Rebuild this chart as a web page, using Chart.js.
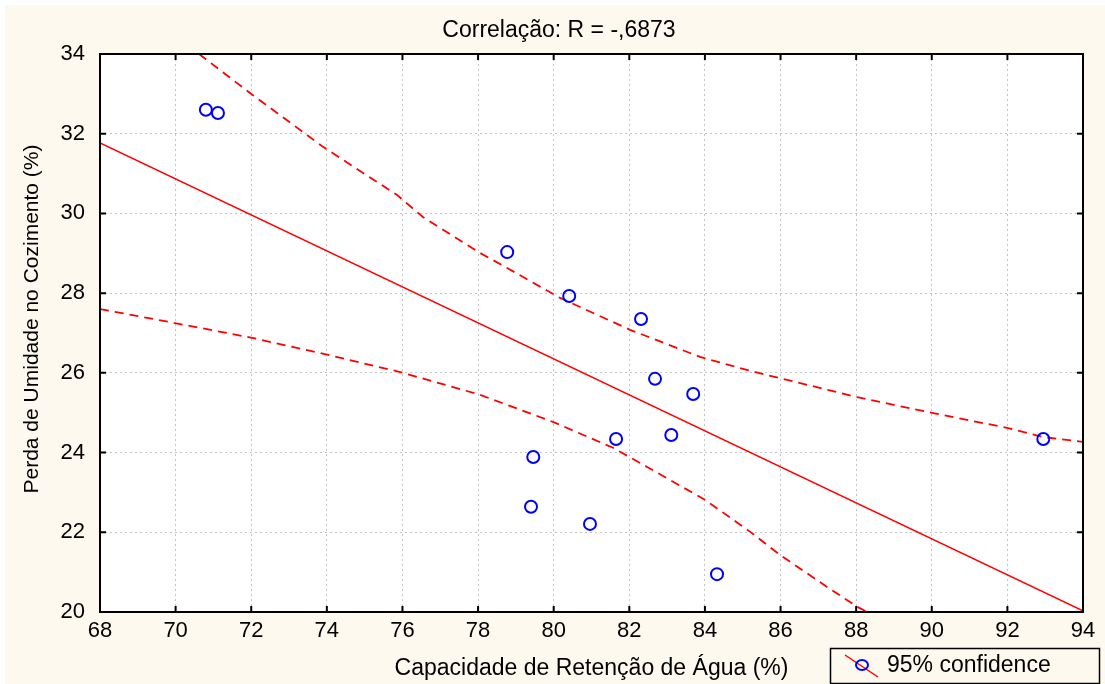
<!DOCTYPE html>
<html>
<head>
<meta charset="utf-8">
<script src="https://cdn.jsdelivr.net/npm/chart.js@4/dist/chart.umd.min.js"></script>
<style>
  body { margin: 0; background: #fff; }
  #chart { display: block; }
</style>
</head>
<body>
<canvas id="chart" width="1105" height="684"></canvas>
<script>
// observed points
var waterX = [70.80, 71.12, 78.77, 80.41, 82.31, 82.68, 83.69, 81.65, 83.11, 79.46, 79.40, 80.96, 84.32, 92.95];
var lossY  = [32.60, 32.52, 29.03, 27.93, 27.35, 25.85, 25.47, 24.34, 24.44, 23.89, 22.64, 22.21, 20.95, 24.34];

// fitted line (ends)
var fitX = [68, 94];
var fitY = [31.77, 20.03];

// 95% confidence bands
var upperX = [70.62, 71.97, 73.90, 75.86, 76.54, 78.05, 78.77, 80.17, 82.02, 83.87, 85.20, 88.03, 90.04, 91.99, 92.95, 94];
var upperY = [34.0, 33.02, 31.67, 30.46, 29.91, 29.01, 28.63, 27.88, 27.08, 26.40, 26.05, 25.39, 24.99, 24.62, 24.39, 24.27];
var lowerX = [68, 69.98, 72.02, 73.95, 75.94, 78.05, 79.98, 81.57, 82.47, 84.01, 85.20, 85.99, 87.23, 88.03, 88.29];
var lowerY = [27.60, 27.25, 26.88, 26.47, 26.02, 25.45, 24.77, 24.12, 23.64, 22.81, 22.01, 21.43, 20.63, 20.13, 20.0];

var xTicks = [68, 70, 72, 74, 76, 78, 80, 82, 84, 86, 88, 90, 92, 94];
var yTicks = [20, 22, 24, 26, 28, 30, 32, 34];

var titleText = 'Correlação: R = -,6873';
var xTitle = 'Capacidade de Retenção de Água (%)';
var yTitle = 'Perda de Umidade no Cozimento (%)';
var legendText = '95% confidence';

var FONT = '"Liberation Sans", Arial, sans-serif';

function pairs(xs, ys) {
  return xs.map(function (x, i) { return { x: x, y: ys[i] }; });
}

// background, frame, inner tick marks, title, y title and the boxed legend
const framePlugin = {
  id: 'frame',
  beforeDraw(chart) {
    const ctx = chart.ctx, a = chart.chartArea;
    ctx.save();
    ctx.fillStyle = '#fdf9ee';
    ctx.fillRect(5, 5, chart.width - 5, chart.height - 5);
    ctx.fillStyle = '#ffffff';
    ctx.fillRect(a.left, a.top, a.right - a.left, a.bottom - a.top);
    ctx.restore();
  },
  afterDraw(chart) {
    const ctx = chart.ctx, a = chart.chartArea;
    const xs = chart.scales.x, ys = chart.scales.y;
    ctx.save();
    ctx.strokeStyle = '#000';
    ctx.lineWidth = 2;
    ctx.strokeRect(a.left, a.top, a.right - a.left, a.bottom - a.top);
    ctx.beginPath();
    xTicks.forEach(function (v) {
      const px = xs.getPixelForValue(v);
      ctx.moveTo(px, a.bottom); ctx.lineTo(px, a.bottom - 6);
      ctx.moveTo(px, a.top); ctx.lineTo(px, a.top + 6);
    });
    yTicks.forEach(function (v) {
      const py = ys.getPixelForValue(v);
      ctx.moveTo(a.left, py); ctx.lineTo(a.left + 6, py);
      ctx.moveTo(a.right, py); ctx.lineTo(a.right - 6, py);
    });
    ctx.stroke();

    // title and y title
    ctx.fillStyle = '#000';
    ctx.textAlign = 'center';
    ctx.textBaseline = 'middle';
    ctx.font = '23px ' + FONT;
    ctx.fillText(titleText, 559, 31);
    ctx.save();
    ctx.translate(32, 319);
    ctx.rotate(-Math.PI / 2);
    ctx.font = '21px ' + FONT;
    ctx.fillText(yTitle, 0, 0);
    ctx.restore();

    // legend
    ctx.lineWidth = 1.5;
    ctx.strokeStyle = '#000';
    ctx.strokeRect(830.5, 648.5, 269, 35);
    ctx.strokeStyle = '#ff0000';
    ctx.beginPath();
    ctx.moveTo(845, 655); ctx.lineTo(878, 677);
    ctx.stroke();
    ctx.strokeStyle = '#0000ff';
    ctx.lineWidth = 2;
    ctx.beginPath();
    ctx.ellipse(862, 665, 6, 5, 0, 0, Math.PI * 2);
    ctx.stroke();
    ctx.fillStyle = '#000';
    ctx.font = '23px ' + FONT;
    ctx.textAlign = 'left';
    ctx.fillText(legendText, 887, 666);
    ctx.restore();
  }
};

const config = {
  type: 'scatter',
  data: {
    datasets: [
      {
        label: 'dados',
        data: pairs(waterX, lossY),
        pointStyle: 'circle',
        pointRadius: 6,
        pointBorderWidth: 2,
        pointBorderColor: '#0000ff',
        pointBackgroundColor: 'rgba(0,0,0,0)',
        showLine: false,
        order: 0
      },
      {
        label: 'ajuste',
        data: pairs(fitX, fitY),
        showLine: true,
        borderColor: '#ff0000',
        borderWidth: 1.6,
        pointRadius: 0,
        order: 1
      },
      {
        label: 'superior',
        data: pairs(upperX, upperY),
        showLine: true,
        borderColor: '#ff0000',
        borderWidth: 1.8,
        borderDash: [9, 6],
        pointRadius: 0,
        order: 1
      },
      {
        label: 'inferior',
        data: pairs(lowerX, lowerY),
        showLine: true,
        borderColor: '#ff0000',
        borderWidth: 1.8,
        borderDash: [9, 6],
        pointRadius: 0,
        order: 1
      }
    ]
  },
  options: {
    responsive: false,
    animation: false,
    layout: { padding: { top: 54, right: 22, bottom: 0, left: 0 } },
    plugins: {
      legend: { display: false },
      tooltip: { enabled: false },
      title: { display: false }
    },
    scales: {
      x: {
        type: 'linear',
        min: 68,
        max: 94,
        afterFit: function (s) { s.height = 72; },
        afterBuildTicks: function (s) { s.ticks = xTicks.map(function (v) { return { value: v }; }); },
        ticks: { color: '#000', padding: 6, font: { family: FONT, size: 22 } },
        grid: { color: '#c4c4c4', lineWidth: 1, drawTicks: false },
        border: { display: false, dash: [2, 3] },
        title: {
          display: true,
          text: xTitle,
          color: '#000',
          font: { family: FONT, size: 23 },
          padding: { top: 0, bottom: 2 }
        }
      },
      y: {
        type: 'linear',
        min: 20,
        max: 34,
        afterFit: function (s) { s.width = 100; },
        afterBuildTicks: function (s) { s.ticks = yTicks.map(function (v) { return { value: v }; }); },
        ticks: { color: '#000', padding: 15, font: { family: FONT, size: 22 } },
        grid: { color: '#c4c4c4', lineWidth: 1, drawTicks: false },
        border: { display: false, dash: [2, 3] },
        title: { display: false }
      }
    }
  },
  plugins: [framePlugin]
};

const chart = new Chart(document.getElementById('chart'), config);
</script>
</body>
</html>
